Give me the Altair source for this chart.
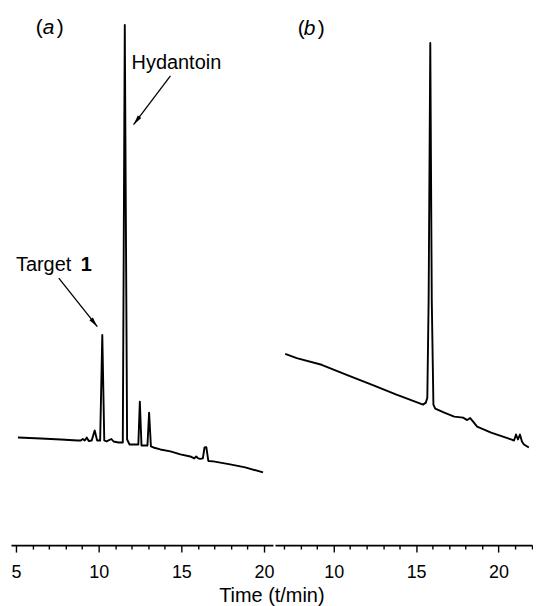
import altair as alt
import pandas as pd

# ---------------- data ----------------
# Chromatogram (a): retention time (min) and detector signal (arbitrary units)
a_time = [5.12, 6.51, 7.71, 8.73, 8.92, 9.04, 9.16, 9.28, 9.40, 9.58, 9.76, 9.91,
          10.09, 10.22, 10.34, 10.48, 10.63, 10.77, 10.90, 11.20, 11.46, 11.58,
          11.72, 11.87, 12.29, 12.40, 12.49, 12.59, 12.83, 12.95, 13.05, 13.16,
          13.31, 13.73, 14.34, 14.94, 15.54, 15.78, 15.90, 16.02, 16.14, 16.30,
          16.40, 16.51, 16.63, 16.93, 17.95, 18.86, 19.94]
a_signal = [20.15, 19.96, 19.78, 19.59, 19.59, 19.87, 19.59, 20.15, 19.50, 19.59, 21.46, 19.59,
            19.59, 39.37, 19.59, 19.40, 19.68, 19.87, 19.40, 19.22, 19.22, 97.39,
            19.78, 18.84, 18.84, 18.84, 26.87, 18.66, 18.66, 18.66, 24.81, 18.47,
            18.28, 17.91, 17.54, 16.98, 16.60, 16.23, 16.60, 16.23, 16.14, 16.23,
            18.28, 18.34, 15.76, 15.67, 15.11, 14.55, 13.62]

# Chromatogram (b)
b_time = [7.06, 7.76, 9.27, 10.79, 12.30, 13.81, 15.02, 15.42, 15.59, 15.68, 15.76,
          15.86, 15.95, 16.05, 16.16, 16.71, 17.31, 17.85, 18.10, 18.28, 18.46,
          18.70, 19.55, 20.76, 20.94, 21.06, 21.18, 21.30, 21.42, 21.54, 21.84]
b_signal = [35.82, 35.02, 33.77, 31.90, 30.04, 28.17, 26.77, 26.31, 26.68, 27.61, 45.90,
            94.03, 45.90, 26.31, 25.56, 24.81, 24.07, 23.88, 23.41, 23.79, 23.13,
            22.20, 21.08, 19.78, 19.59, 20.71, 19.78, 20.71, 19.40, 18.84, 18.28]

# axis tick values (minutes); labels shown every 5 min
a_ticks = list(range(5, 21))
b_ticks = list(range(7, 23))

# annotation texts and anchor points (time, signal)
hyd_label = ["Hydantoin"]
hyd_label_pos = [11.99, 90.30]
hyd_arrow = [14.34, 87.87, 12.11, 78.73]
tgt_label = ["Target", "1"]
tgt_label_pos = [[5.00, 52.43], [8.92, 52.43]]
tgt_arrow = [7.59, 50.00, 9.92, 40.91]
panel_a_pos = [6.20, 96.83]
panel_b_pos = [7.82, 96.64]
axis_title = "Time (t/min)"

# ---------------- styling ----------------
FONT = "Liberation Sans"
A_DOMAIN = [4.7, 20.54]
B_DOMAIN = [6.44, 22.03]
Y_DOMAIN = [0, 100]
A_W, B_W, H = 263, 258, 536
INK = "#000000"


def make_axis(values):
    return alt.Axis(
        values=values,
        labelExpr="datum.value % 5 === 0 ? datum.label : ''",
        tickSize={"condition": {"test": "datum.value % 5 === 0", "value": 7}, "value": 4},
        tickColor=INK, tickWidth=1.4,
        domainColor=INK, domainWidth=1.7,
        labelFont=FONT, labelFontSize=18, labelColor=INK,
        labelPadding=12, labelOverlap=False, labelFlush=False,
        grid=False, title=None,
    )


def xenc(field, domain, ticks):
    return alt.X(field, scale=alt.Scale(domain=domain, nice=False, zero=False),
                 axis=make_axis(ticks))


def yenc(field):
    return alt.Y(field, scale=alt.Scale(domain=Y_DOMAIN, nice=False, zero=False), axis=None)


def trace(times, signals, domain, ticks):
    df = pd.DataFrame({"t": times, "v": signals})
    return alt.Chart(df).mark_line(color=INK, strokeWidth=1.9, strokeJoin="round").encode(
        x=xenc("t:Q", domain, ticks), y=yenc("v:Q"),
    )


def text_piece(t, v, txt, domain, ticks, dx=0, style="normal", weight="normal", size=20):
    df = pd.DataFrame({"t": [t], "v": [v], "s": [txt]})
    return alt.Chart(df).mark_text(
        align="left", baseline="middle", font=FONT, fontSize=size,
        fontStyle=style, fontWeight=weight, color=INK, dx=dx,
    ).encode(x=xenc("t:Q", domain, ticks), y=yenc("v:Q"), text="s:N")


def arrow(coords, domain, ticks, angle):
    df = pd.DataFrame({"t": [coords[0]], "v": [coords[1]], "t2": [coords[2]], "v2": [coords[3]]})
    line = alt.Chart(df).mark_rule(color=INK, strokeWidth=1.3).encode(
        x=xenc("t:Q", domain, ticks), y=yenc("v:Q"), x2="t2:Q", y2="v2:Q",
    )
    head = alt.Chart(df).mark_point(
        shape="M0,0L0.45,2L-0.45,2Z", filled=True, size=100, angle=angle,
        color=INK, opacity=1,
    ).encode(x=xenc("t2:Q", domain, ticks), y=yenc("v2:Q"))
    return line + head


A = (A_DOMAIN, a_ticks)
B = (B_DOMAIN, b_ticks)

panel_a = alt.layer(
    trace(a_time, a_signal, *A),
    arrow(hyd_arrow, *A, 217),
    arrow(tgt_arrow, *A, 141.5),
    text_piece(hyd_label_pos[0], hyd_label_pos[1], hyd_label[0], *A),
    text_piece(tgt_label_pos[0][0], tgt_label_pos[0][1], tgt_label[0], *A),
    text_piece(tgt_label_pos[1][0], tgt_label_pos[1][1], tgt_label[1], *A, weight="bold"),
    text_piece(panel_a_pos[0], panel_a_pos[1], "(", *A, size=21),
    text_piece(panel_a_pos[0], panel_a_pos[1], "a", *A, dx=7, style="italic", size=21),
    text_piece(panel_a_pos[0], panel_a_pos[1], ")", *A, dx=21, size=21),
).properties(width=A_W, height=H)

panel_b = alt.layer(
    trace(b_time, b_signal, *B),
    text_piece(panel_b_pos[0], panel_b_pos[1], "(", *B, size=21),
    text_piece(panel_b_pos[0], panel_b_pos[1], "b", *B, dx=6, style="italic", size=21),
    text_piece(panel_b_pos[0], panel_b_pos[1], ")", *B, dx=20, size=21),
).properties(width=B_W, height=H)

chart = alt.hconcat(panel_a, panel_b, spacing=0).properties(
    padding={"left": 2, "top": 2, "right": 0, "bottom": 0},
    background="white",
    title=alt.TitleParams(
        axis_title, orient="bottom", anchor="middle", font=FONT, fontSize=20,
        fontWeight="normal", color=INK, offset=4,
    ),
).configure_view(stroke=None, strokeWidth=0)

chart.save("out.html", embed_options={"renderer": "svg", "actions": False})
